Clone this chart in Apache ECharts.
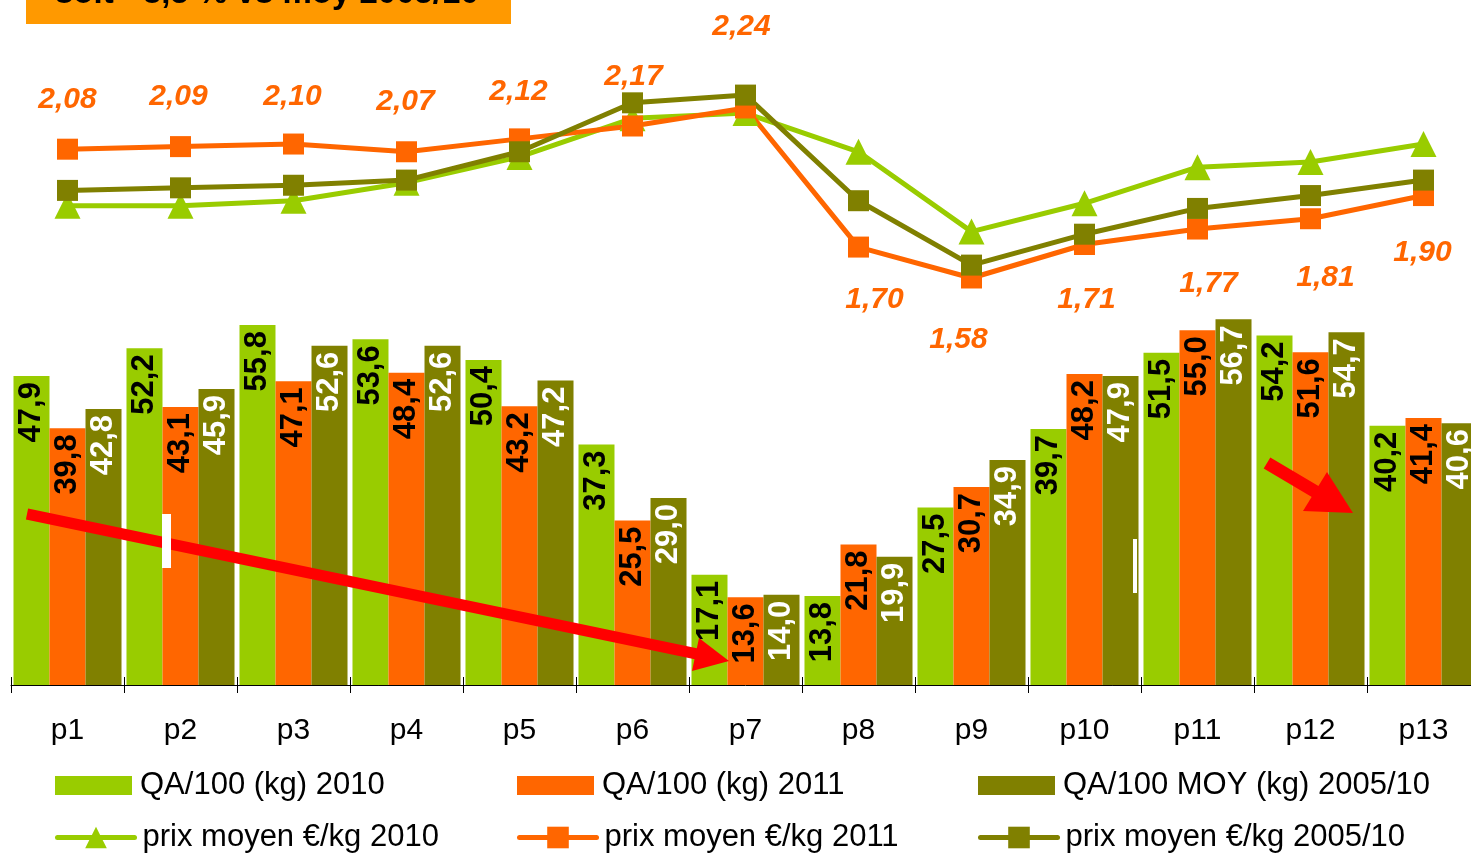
<!DOCTYPE html>
<html>
<head>
<meta charset="utf-8">
<script src="https://cdn.jsdelivr.net/npm/echarts@6/dist/echarts.min.js"></script>
<style>
html,body{margin:0;padding:0;background:#ffffff;overflow:hidden;}
#chart{width:1490px;height:853px;}
</style>
</head>
<body>
<div id="chart"></div>
<script>
// ---- data ----
const categories = ['p1','p2','p3','p4','p5','p6','p7','p8','p9','p10','p11','p12','p13'];
const qa2010 = [47.9, 52.2, 55.8, 53.6, 50.4, 37.3, 17.1, 13.8, 27.5, 39.7, 51.5, 54.2, 40.2];
const qa2011 = [39.8, 43.1, 47.1, 48.4, 43.2, 25.5, 13.6, 21.8, 30.7, 48.2, 55.0, 51.6, 41.4];
const qaMoy  = [42.8, 45.9, 52.6, 52.6, 47.2, 29.0, 14.0, 19.9, 34.9, 47.9, 56.7, 54.7, 40.6];
const prix2010 = [1.86, 1.86, 1.88, 1.95, 2.05, 2.20, 2.22, 2.07, 1.76, 1.87, 2.01, 2.03, 2.10];
const prix2011 = [2.08, 2.09, 2.10, 2.07, 2.12, 2.17, 2.24, 1.70, 1.58, 1.71, 1.77, 1.81, 1.90];
const prixMoy  = [1.92, 1.93, 1.94, 1.96, 2.07, 2.26, 2.29, 1.88, 1.63, 1.75, 1.85, 1.90, 1.96];
const names = ['QA/100 (kg) 2010', 'QA/100 (kg) 2011', 'QA/100 MOY (kg) 2005/10',
               'prix moyen €/kg 2010', 'prix moyen €/kg 2011', 'prix moyen €/kg 2005/10'];
const noteText = 'soit  -3,5 % vs moy 2005/10';

// ---- styling ----
const FONT = "'Liberation Sans', Arial, sans-serif";
const GREEN = '#99CC00', ORANGE = '#FF6600', OLIVE = '#808000';
// label offsets (px) of the 2011 price labels relative to their points
const priceLabelOffsets = [[0,-49],[-2,-50],[-1,-47],[-1,-50],[-1,-47],[1,-49],[-4,-81],
                           [16,53],[-13,62],[2,55],[11,55],[15,59],[-1,57]];
const legendColumns = [55, 517, 978];

const fmt1 = v => v.toFixed(1).replace('.', ',');
const fmt2 = v => v.toFixed(2).replace('.', ',');

function barSeries(name, data, labelColor, color) {
  return {
    name, type: 'bar', data, xAxisIndex: 0, yAxisIndex: 0,
    barGap: '0%', barCategoryGap: '4.4%',
    itemStyle: { color },
    label: {
      show: true, position: 'insideTop', rotate: 90, align: 'right', verticalAlign: 'middle',
      distance: 6, fontSize: 31, fontWeight: 'bold', color: labelColor, fontFamily: FONT,
      formatter: p => fmt1(p.value)
    },
    z: 2
  };
}

function lineSeries(name, data, color, symbol, size, extra) {
  return Object.assign({
    name, type: 'line', data, xAxisIndex: 0, yAxisIndex: 1,
    symbol, symbolSize: size, showAllSymbol: true,
    lineStyle: { color: color, width: 5 },
    itemStyle: { color: color },
    label: { show: false },
    z: 5
  }, extra || {});
}

const price2011Data = prix2011.map((v, i) => ({
  value: v,
  label: { offset: priceLabelOffsets[i] }
}));

function legendItem(name, col, isBar) {
  return {
    data: [isBar ? { name: name, icon: 'rect' } : { name: name }],
    left: legendColumns[col], top: isBar ? 770 : 822,
    orient: 'horizontal', padding: 0,
    itemWidth: 77, itemHeight: isBar ? 19 : 27, itemGap: 0,
    lineStyle: { width: 5, cap: 'round' },
    textStyle: { fontSize: 31, color: '#000', lineHeight: 30, fontFamily: FONT, padding: [0, 0, 0, 3] }
  };
}

const option = {
  animation: false,
  backgroundColor: '#ffffff',
  textStyle: { fontFamily: FONT },
  grid: { left: 11, top: 20, width: 1469, height: 665, containLabel: false },
  xAxis: [
    {
      type: 'category', data: categories, position: 'bottom',
      axisLine: { show: true, lineStyle: { color: '#000', width: 1 } },
      axisTick: { show: true, length: 8, lineStyle: { color: '#000' } },
      axisLabel: { fontSize: 30, color: '#000', margin: 31, fontFamily: FONT },
      splitLine: { show: false }
    },
    {
      type: 'category', data: categories, position: 'bottom',
      axisLine: { show: false },
      axisTick: { show: true, inside: true, length: 8, lineStyle: { color: '#000' } },
      axisLabel: { show: false },
      splitLine: { show: false }
    }
  ],
  yAxis: [
    { type: 'value', min: 0, max: 103.1, show: false, splitLine: { show: false } },
    { type: 'value', min: 0, max: 2.5815, show: false, splitLine: { show: false } }
  ],
  legend: [
    legendItem(names[0], 0, true), legendItem(names[1], 1, true), legendItem(names[2], 2, true),
    legendItem(names[3], 0, false), legendItem(names[4], 1, false), legendItem(names[5], 2, false)
  ],
  series: [
    barSeries(names[0], qa2010, '#000', GREEN),
    barSeries(names[1], qa2011, '#000', ORANGE),
    barSeries(names[2], qaMoy, '#fff', OLIVE),
    lineSeries(names[3], prix2010, GREEN, 'triangle', [26, 26]),
    lineSeries(names[4], price2011Data, ORANGE, 'rect', 21, {
      label: {
        show: true, position: 'inside', color: ORANGE, fontSize: 30, fontWeight: 'bold',
        fontStyle: 'italic', fontFamily: FONT, formatter: p => fmt2(p.value)
      }
    }),
    lineSeries(names[5], prixMoy, OLIVE, 'rect', 21)
  ],
  graphic: [
    { type: 'rect', shape: { x: 26, y: -30, width: 485, height: 54 }, style: { fill: '#FF9900' }, z: 100 },
    { type: 'text', x: 55, y: 10, style: { text: noteText, font: "bold 33px 'Liberation Sans', Arial, sans-serif",
      fill: '#000', verticalAlign: 'bottom', align: 'left' }, z: 101 },
    // red arrows
    { type: 'line', shape: { x1: 27, y1: 514, x2: 697, y2: 654 }, style: { stroke: '#FF0000', lineWidth: 11 }, z: 100 },
    { type: 'polygon', shape: { points: [[729,661],[699,638],[692,671]] }, style: { fill: '#FF0000' }, z: 100 },
    { type: 'line', shape: { x1: 1267, y1: 463, x2: 1316, y2: 492 }, style: { stroke: '#FF0000', lineWidth: 13 }, z: 100 },
    { type: 'polygon', shape: { points: [[1353,513],[1327,472],[1303,511]] }, style: { fill: '#FF0000' }, z: 100 },
    // white marks
    { type: 'rect', shape: { x: 162, y: 514, width: 9, height: 54 }, style: { fill: '#ffffff' }, z: 102 },
    { type: 'rect', shape: { x: 1133, y: 539, width: 4, height: 54 }, style: { fill: '#ffffff' }, z: 102 }
  ]
};

const chart = echarts.init(document.getElementById('chart'), null, { renderer: 'canvas' });
chart.setOption(option);
</script>
</body>
</html>
